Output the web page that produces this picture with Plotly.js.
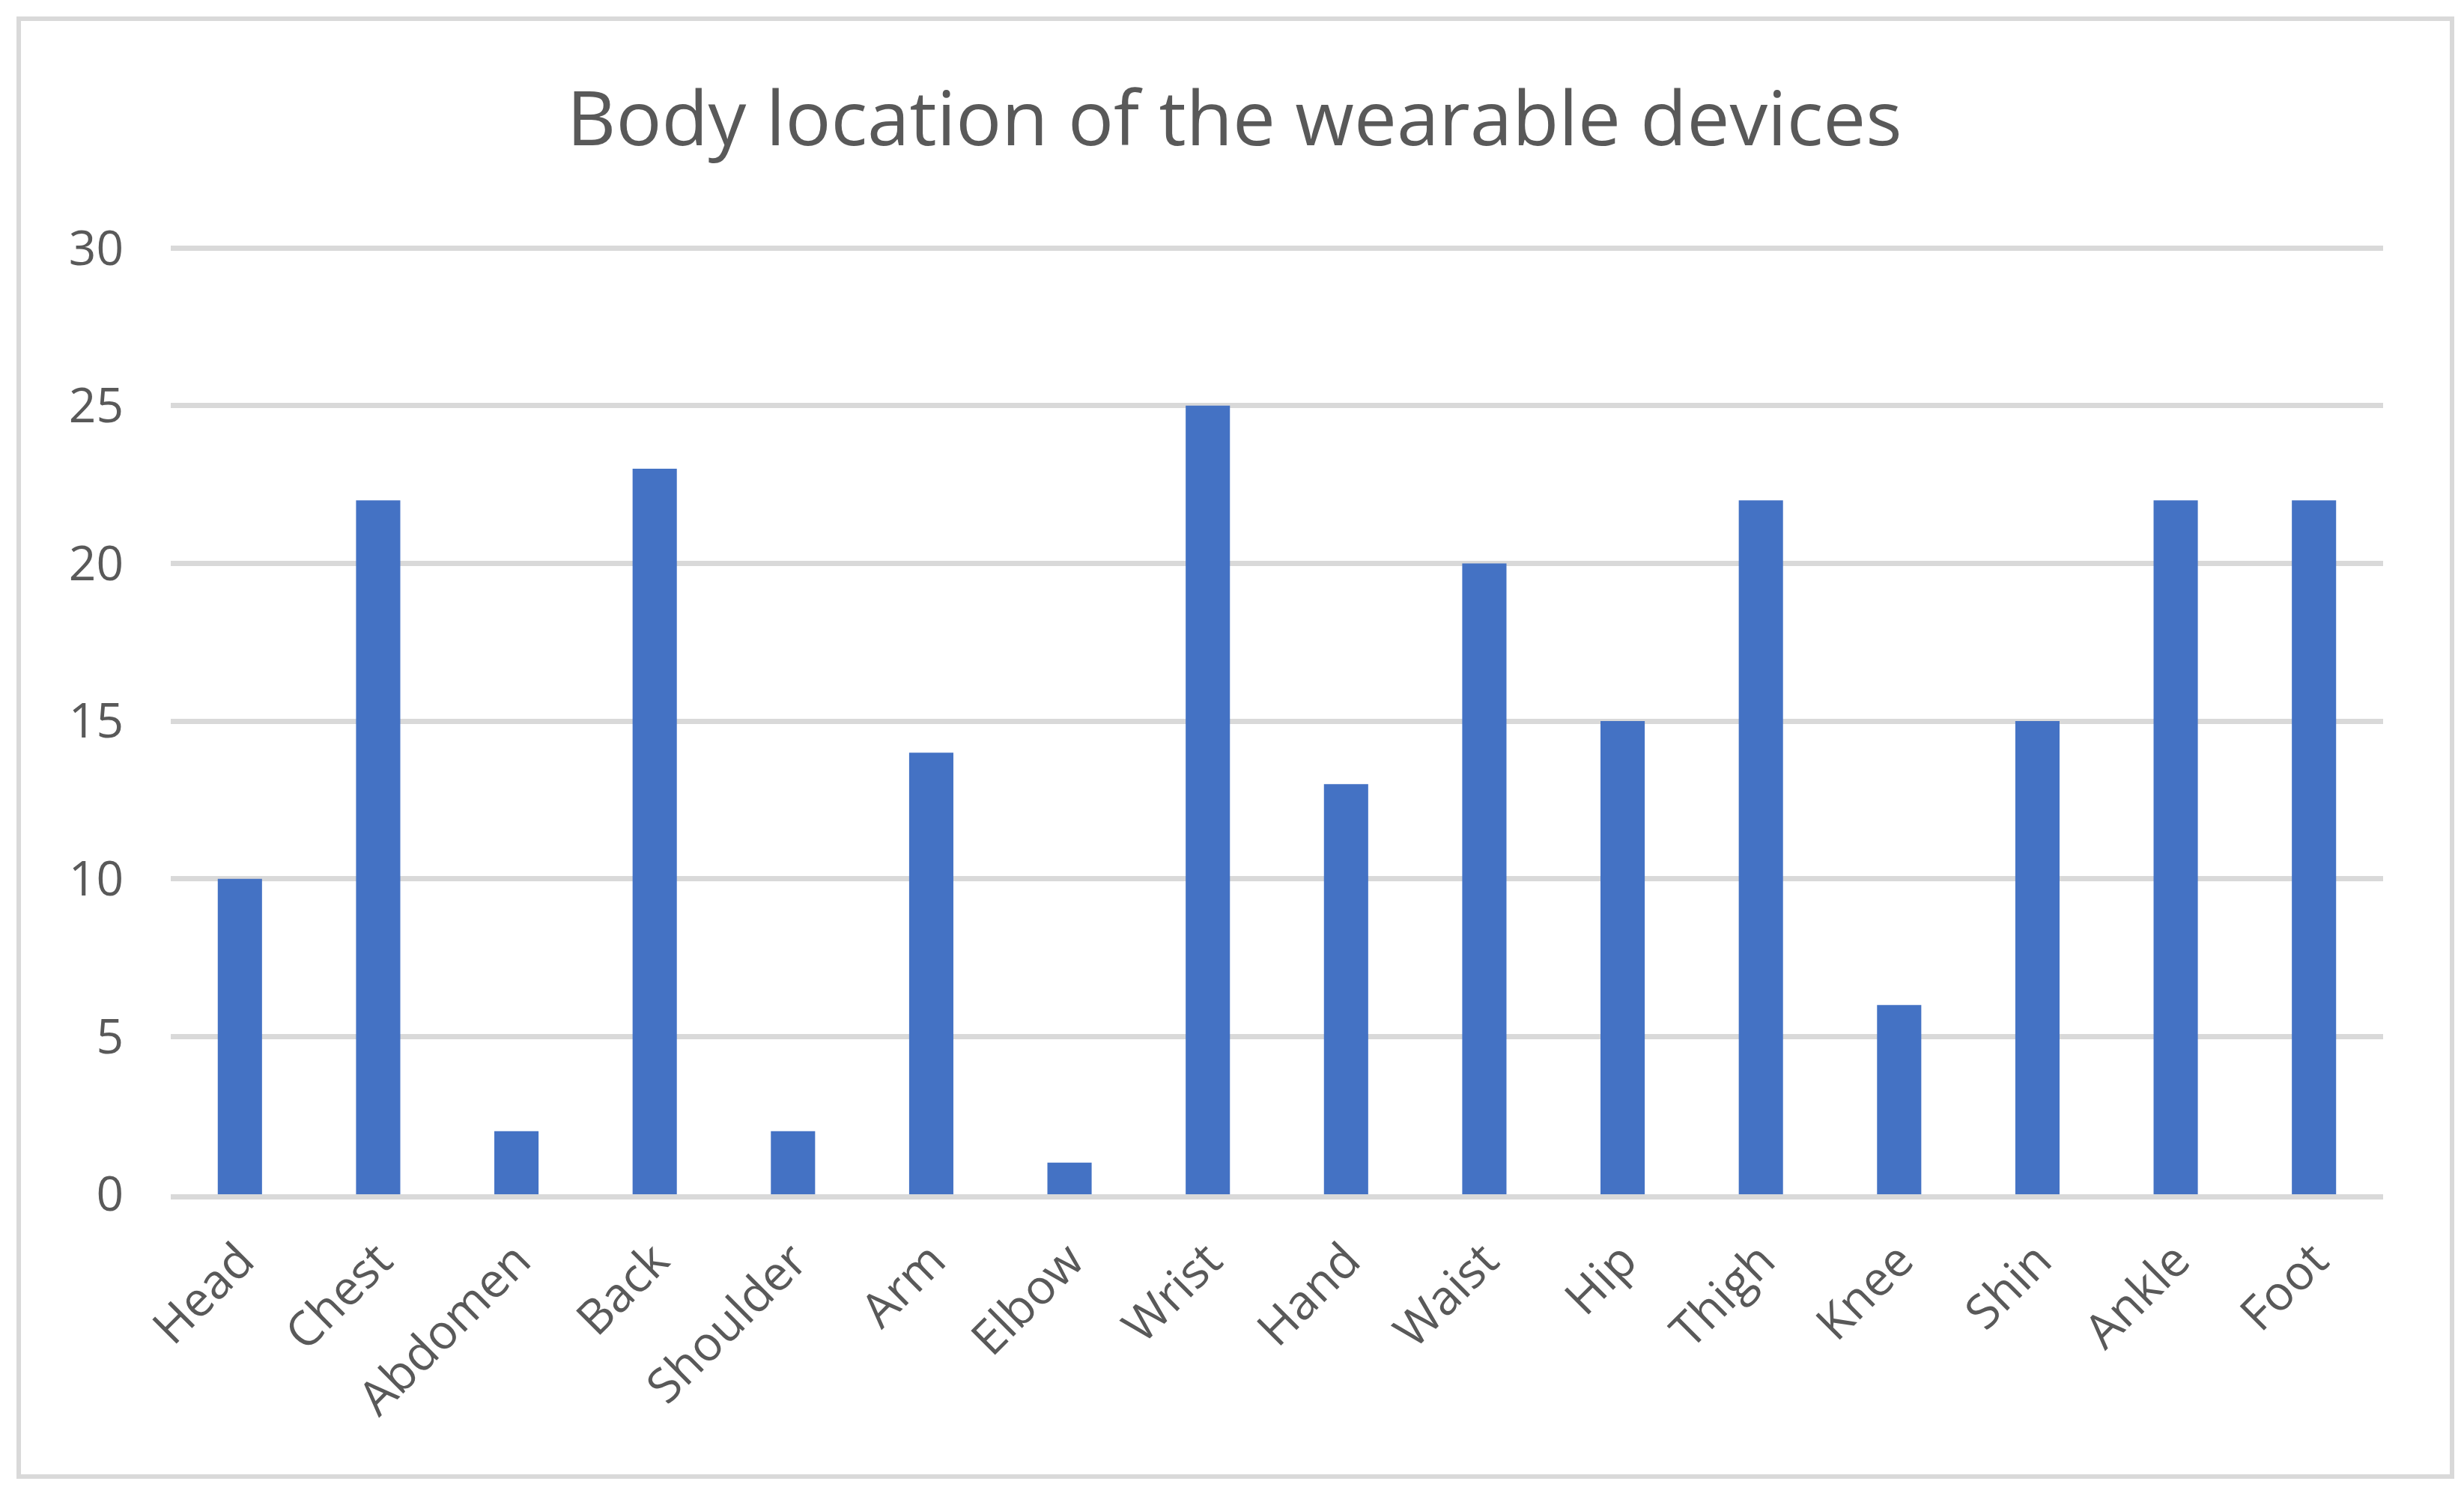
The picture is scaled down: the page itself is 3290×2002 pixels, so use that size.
<!DOCTYPE html>
<html>
<head>
<meta charset="utf-8">
<script src="https://cdn.plot.ly/plotly-3.0.1.min.js"></script>
<style>
  html, body { margin: 0; padding: 0; background: #ffffff; }
  #wrap { position: relative; width: 3290px; height: 2002px; }
  #chart { position: absolute; left: 0; top: 0; width: 3290px; height: 2002px; }
  #frame { position: absolute; left: 22px; top: 22px; width: 3243px; height: 1941px;
           border: 6px solid #d9d9d9; pointer-events: none; }
</style>
</head>
<body>
<div id="wrap">
  <div id="chart"></div>
  <div id="frame"></div>
</div>
<script>
const titleText = "Body location of the wearable devices";
const categories = ["Head", "Chest", "Abdomen", "Back", "Shoulder", "Arm", "Elbow", "Wrist",
                    "Hand", "Waist", "Hip", "Thigh", "Knee", "Shin", "Ankle", "Foot"];
const counts = [10, 22, 2, 23, 2, 14, 1, 25, 13, 20, 15, 22, 6, 15, 22, 22];
const yTicks = [0, 5, 10, 15, 20, 25, 30];

const fontFamily = "'Open Sans', 'Noto Sans', sans-serif";
const textColor = "#595959";

const trace = {
  type: "bar",
  x: categories,
  y: counts,
  marker: { color: "#4472c4", line: { width: 0 } },
  hoverinfo: "x+y"
};

const layout = {
  width: 3290,
  height: 2002,
  paper_bgcolor: "#ffffff",
  plot_bgcolor: "#ffffff",
  margin: { l: 228, r: 108, t: 329, b: 407, pad: 0 },
  showlegend: false,
  bargap: 0.68,
  font: { family: fontFamily, color: textColor, size: 63 },
  title: {
    text: titleText,
    font: { family: fontFamily, color: textColor, size: 101.5 },
    x: 0.501, xref: "container", xanchor: "center",
    y: 0.921, yref: "container", yanchor: "middle"
  },
  xaxis: {
    type: "category",
    tickangle: -45,
    tickfont: { family: fontFamily, color: textColor, size: 64 },
    showgrid: false,
    showline: true,
    linecolor: "#d9d9d9",
    linewidth: 7,
    ticks: "",
    ticklabelstandoff: 18,
    zeroline: false,
    fixedrange: true
  },
  yaxis: {
    range: [0, 30.05],
    tickvals: yTicks,
    ticktext: yTicks.map(String),
    tickfont: { family: fontFamily, color: textColor, size: 64 },
    showgrid: true,
    gridcolor: "#d9d9d9",
    gridwidth: 7,
    showline: false,
    zeroline: false,
    ticks: "",
    ticklabelstandoff: 62,
    fixedrange: true
  }
};

Plotly.newPlot("chart", [trace], layout, { displayModeBar: false, staticPlot: true });
</script>
</body>
</html>
